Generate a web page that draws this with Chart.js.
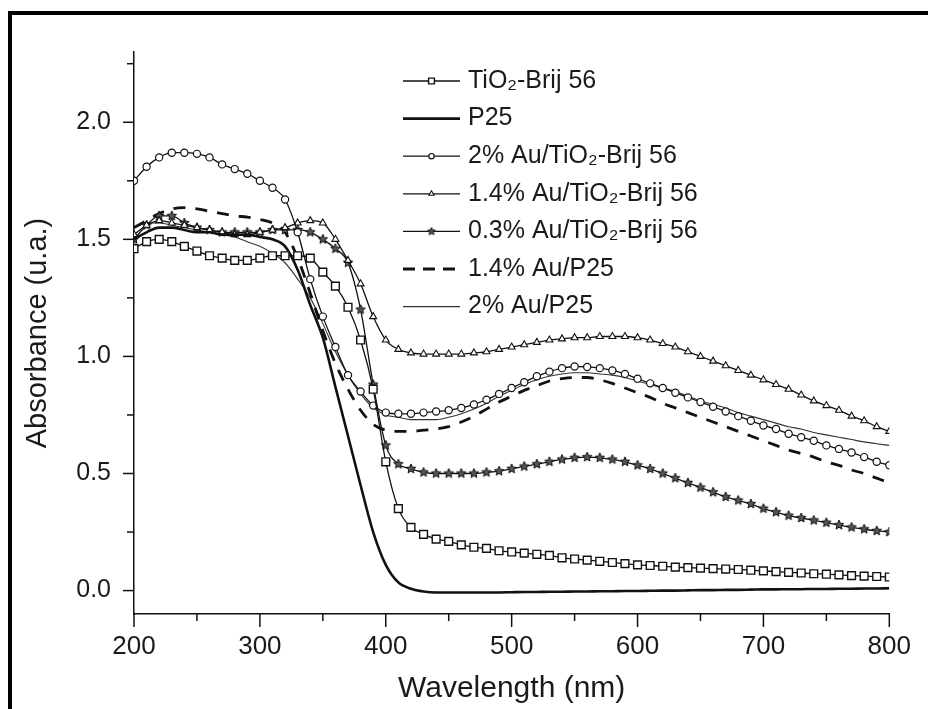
<!DOCTYPE html>
<html><head><meta charset="utf-8">
<script src="https://cdn.jsdelivr.net/npm/chart.js@4.4.1/dist/chart.umd.min.js"></script>
<style>
html,body{margin:0;padding:0;background:#fff;overflow:hidden;}
#wrap{position:relative;width:928px;height:709px;overflow:hidden;}
#frame{position:absolute;left:8px;top:11px;width:940px;height:720px;border-left:4px solid #000;border-top:4px solid #000;}
canvas{position:absolute;left:0;top:0;}
</style></head><body>
<div id="wrap"><div id="frame"></div><canvas id="c" width="928" height="709"></canvas></div>
<script>
// ---- data (wavelength in nm, absorbance in u.a.) ----
const wavelengths = [200,210,220,230,240,250,260,270,280,290,300,310,320,330,340,350,360,370,380,390,400,410,420,430,440,450,460,470,480,490,500,510,520,530,540,550,560,570,580,590,600,610,620,630,640,650,660,670,680,690,700,710,720,730,740,750,760,770,780,790,800];
const tio2Brij = [1.46,1.49,1.50,1.49,1.47,1.45,1.43,1.42,1.41,1.41, 1.42,1.43,1.43,1.43,1.42,1.36,1.30,1.21,1.07,0.86, 0.55,0.35,0.27,0.24,0.22,0.21,0.195,0.185,0.18,0.17, 0.165,0.16,0.155,0.15,0.14,0.135,0.13,0.125,0.12,0.115, 0.11,0.107,0.104,0.10,0.098,0.096,0.094,0.092,0.09,0.087, 0.084,0.081,0.078,0.075,0.072,0.07,0.067,0.064,0.062,0.06, 0.058];
const p25 = [1.50,1.53,1.55,1.55,1.54,1.53,1.53,1.52,1.52,1.52, 1.51,1.50,1.47,1.37,1.22,1.08,0.87,0.66,0.45,0.25, 0.11,0.035,0.008,-0.004,-0.008,-0.008,-0.008,-0.008,-0.008,-0.008, -0.007,-0.006,-0.006,-0.005,-0.005,-0.004,-0.004,-0.003,-0.003,-0.002, -0.002,-0.001,0,0,0.001,0.002,0.002,0.003,0.003,0.004, 0.005,0.005,0.006,0.006,0.007,0.007,0.008,0.008,0.009,0.009, 0.01];
const au2Brij = [1.75,1.81,1.85,1.87,1.87,1.865,1.85,1.82,1.80,1.78, 1.75,1.72,1.67,1.53,1.33,1.17,1.04,0.92,0.85,0.79, 0.76,0.755,0.755,0.76,0.765,0.77,0.78,0.795,0.815,0.84, 0.865,0.89,0.915,0.935,0.95,0.957,0.955,0.95,0.94,0.925, 0.905,0.885,0.865,0.845,0.825,0.805,0.785,0.765,0.745,0.725, 0.705,0.69,0.67,0.655,0.64,0.62,0.605,0.59,0.57,0.55, 0.535];
const au14Brij = [1.52,1.56,1.58,1.57,1.56,1.55,1.54,1.53,1.52,1.52, 1.53,1.54,1.55,1.57,1.58,1.57,1.50,1.41,1.31,1.17, 1.07,1.03,1.015,1.01,1.01,1.01,1.01,1.015,1.02,1.03, 1.04,1.05,1.06,1.07,1.075,1.08,1.08,1.085,1.085,1.085, 1.08,1.07,1.055,1.04,1.02,1.0,0.98,0.96,0.94,0.92, 0.90,0.88,0.86,0.835,0.81,0.79,0.77,0.745,0.725,0.70, 0.68];
const au03Brij = [1.50,1.56,1.60,1.60,1.57,1.55,1.54,1.53,1.53,1.53, 1.53,1.54,1.54,1.54,1.53,1.50,1.46,1.40,1.20,0.88, 0.62,0.54,0.52,0.505,0.50,0.50,0.50,0.50,0.505,0.51, 0.52,0.53,0.54,0.55,0.56,0.567,0.57,0.567,0.56,0.55, 0.535,0.52,0.50,0.48,0.46,0.44,0.42,0.40,0.385,0.37, 0.35,0.335,0.32,0.31,0.30,0.29,0.28,0.27,0.262,0.255, 0.25];
const au14P25 = [1.55,1.58,1.61,1.63,1.635,1.63,1.62,1.61,1.60,1.595, 1.585,1.57,1.53,1.42,1.27,1.11,0.97,0.86,0.77,0.71, 0.685,0.68,0.68,0.685,0.69,0.70,0.72,0.745,0.775,0.805, 0.83,0.855,0.875,0.895,0.905,0.91,0.91,0.90,0.885,0.865, 0.845,0.825,0.80,0.78,0.76,0.74,0.72,0.70,0.68,0.66, 0.64,0.62,0.60,0.585,0.57,0.55,0.535,0.515,0.50,0.48, 0.46];
const au2P25 = [1.55,1.57,1.57,1.56,1.55,1.54,1.53,1.52,1.51,1.49, 1.47,1.44,1.40,1.33,1.25,1.14,1.02,0.92,0.84,0.78, 0.75,0.74,0.73,0.73,0.73,0.74,0.755,0.775,0.80,0.83, 0.855,0.88,0.90,0.915,0.925,0.93,0.93,0.925,0.92,0.91, 0.895,0.88,0.865,0.85,0.83,0.81,0.795,0.78,0.76,0.745, 0.73,0.715,0.70,0.69,0.675,0.665,0.655,0.645,0.635,0.627, 0.62];
const seriesLabels = ['TiO\u2082-Brij 56','P25','2% Au/TiO\u2082-Brij 56','1.4% Au/TiO\u2082-Brij 56','0.3% Au/TiO\u2082-Brij 56','1.4% Au/P25','2% Au/P25'];
const xTickValues = [200,250,300,350,400,450,500,550,600,650,700,750,800];
const yTickValues = [0,0.25,0.5,0.75,1.0,1.25,1.5,1.75,2.0,2.25];
const xTitle = 'Wavelength (nm)';
const yTitle = 'Absorbance (u.a.)';

// ---- star marker image ----
function makeStar(size){
  const c = document.createElement('canvas'); c.width = size; c.height = size;
  const g = c.getContext('2d'); const cx=size/2, cy=size/2, R=size/2-1, r=R*0.45;
  g.beginPath();
  for(let i=0;i<10;i++){ const a=-Math.PI/2+i*Math.PI/5; const rr=i%2?r:R; g.lineTo(cx+rr*Math.cos(a), cy+rr*Math.sin(a)); }
  g.closePath(); g.fillStyle='#555'; g.fill(); g.lineWidth=1; g.strokeStyle='#111'; g.stroke();
  return c;
}
const starImg = makeStar(12);
const starImgSmall = makeStar(10);

const pts = arr => wavelengths.map((w,i)=>({x:w, y:arr[i]}));
const base = {fill:false, cubicInterpolationMode:'monotone', borderColor:'#111', pointBorderColor:'#111', pointBackgroundColor:'#fff', pointHoverRadius:0};

const datasets = [
  Object.assign({}, base, {label:seriesLabels[0], data:pts(tio2Brij), borderWidth:1.3, pointStyle:'rect', pointRadius:5.5, pointBorderWidth:1.4}),
  Object.assign({}, base, {label:seriesLabels[1], data:pts(p25), borderWidth:2.6, pointRadius:0}),
  Object.assign({}, base, {label:seriesLabels[2], data:pts(au2Brij), borderWidth:1.3, pointStyle:'circle', pointRadius:3.6, pointBorderWidth:1.2}),
  Object.assign({}, base, {label:seriesLabels[3], data:pts(au14Brij), borderWidth:1.3, pointStyle:'triangle', pointRadius:4, pointBorderWidth:1.1}),
  Object.assign({}, base, {label:seriesLabels[4], data:pts(au03Brij), borderWidth:1.3, pointStyle:starImg, pointRadius:5}),
  Object.assign({}, base, {label:seriesLabels[5], data:pts(au14P25), borderWidth:2.8, borderDash:[12,10], pointRadius:0}),
  Object.assign({}, base, {label:seriesLabels[6], data:pts(au2P25), borderWidth:1.1, borderColor:'#333', pointRadius:0})
];

const FONT = '"Liberation Sans", Arial, Helvetica, sans-serif';
Chart.defaults.font.family = FONT;
Chart.defaults.color = '#1a1a1a';

const tickPlugin = {
  id:'axisTicks',
  afterDraw(chart){
    const {ctx, scales:{x,y}, chartArea} = chart;
    ctx.save(); ctx.strokeStyle='#111'; ctx.lineWidth=1.5;
    x.ticks.forEach(t=>{ const px=x.getPixelForValue(t.value); const major = t.value%100===0;
      ctx.beginPath(); ctx.moveTo(px, chartArea.bottom); ctx.lineTo(px, chartArea.bottom+(major?13:7)); ctx.stroke(); });
    y.ticks.forEach(t=>{ const py=y.getPixelForValue(t.value); const major = Math.abs(t.value*2-Math.round(t.value*2))<1e-9;
      ctx.beginPath(); ctx.moveTo(chartArea.left, py); ctx.lineTo(chartArea.left-(major?11:7), py); ctx.stroke(); });
    ctx.restore();
  }
};

const legendPlugin = {
  id:'inlineLegend',
  afterDraw(chart){
    const ctx = chart.ctx;
    const x0=403, x1=460, tx=468, y0=81, dy=37.6;
    chart.data.datasets.forEach((ds,i)=>{
      const y = y0+i*dy;
      ctx.save();
      ctx.strokeStyle = ds.borderColor; ctx.lineWidth = ds.borderWidth;
      ctx.setLineDash(ds.borderDash ? [12,8] : []);
      ctx.beginPath(); ctx.moveTo(x0,y); ctx.lineTo(x1,y); ctx.stroke();
      ctx.setLineDash([]);
      if (ds.pointRadius>0){
        const mx=(x0+x1)/2;
        if (typeof ds.pointStyle === 'string'){
          ctx.fillStyle = ds.pointBackgroundColor; ctx.strokeStyle = ds.pointBorderColor; ctx.lineWidth = ds.pointBorderWidth;
          Chart.helpers.drawPoint(ctx, {pointStyle:ds.pointStyle, radius:ds.pointRadius*0.75, rotation:0, borderWidth:ds.pointBorderWidth}, mx, y);
        } else {
          ctx.drawImage(starImgSmall, mx-5, y-5);
        }
      }
      ctx.fillStyle='#1a1a1a'; ctx.font='25px '+FONT; ctx.textBaseline='middle'; ctx.textAlign='left';
      ctx.fillText(ds.label, tx, y);
      ctx.restore();
    });
  }
};

new Chart(document.getElementById('c'), {
  type:'line',
  data:{datasets},
  options:{
    responsive:false, animation:false, devicePixelRatio:1,
    layout:{padding:{top:52, right:35, bottom:0, left:0}},
    plugins:{legend:{display:false}, tooltip:{enabled:false}},
    scales:{
      x:{type:'linear', min:200, max:800,
        afterBuildTicks:s=>{ s.ticks = xTickValues.map(v=>({value:v})); },
        afterFit:s=>{ s.height = 95; },
        ticks:{autoSkip:false, maxRotation:0, padding:17, font:{size:26}, color:'#1a1a1a',
          callback:v=> (v%100===0 ? String(v) : '')},
        grid:{display:true, drawOnChartArea:false, drawTicks:false},
        border:{display:true, color:'#111', width:1.5},
        title:{display:true, text:xTitle, font:{size:30}, color:'#1a1a1a', padding:{top:0,bottom:2}}
      },
      y:{type:'linear', min:-0.1, max:2.3,
        afterBuildTicks:s=>{ s.ticks = yTickValues.map(v=>({value:v})); },
        afterFit:s=>{ s.width = 134; },
        ticks:{autoSkip:false, padding:23, font:{size:25}, color:'#1a1a1a',
          callback:v=> (Math.abs(v*2-Math.round(v*2))<1e-9 ? Number(v).toFixed(1) : '')},
        grid:{display:true, drawOnChartArea:false, drawTicks:false},
        border:{display:true, color:'#111', width:1.5},
        title:{display:true, text:yTitle, font:{size:29}, color:'#1a1a1a', padding:{top:21,bottom:0}}
      }
    }
  },
  plugins:[tickPlugin, legendPlugin]
});
</script>
</body></html>
